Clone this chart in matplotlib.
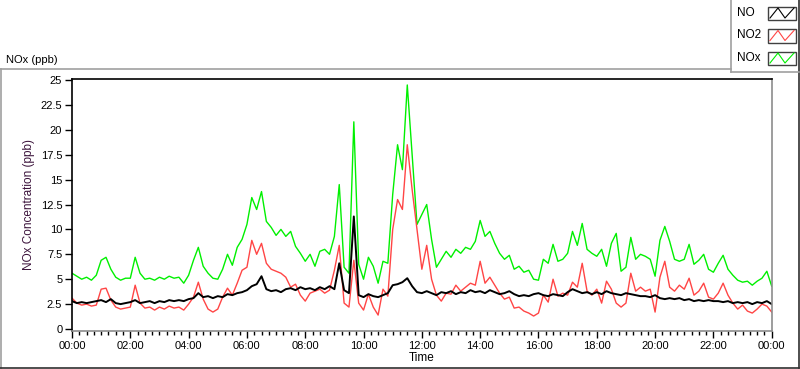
import numpy as np
import matplotlib.pyplot as plt
from matplotlib.lines import Line2D
from matplotlib.patches import Rectangle
from matplotlib.ticker import MultipleLocator, FixedLocator

# 10-minute readings, one row per hour (00:00 ... 23:50) plus the closing 24:00 value
no_ppb = [
    2.8, 2.6, 2.7, 2.6, 2.7, 2.8,
    2.9, 2.7, 3.0, 2.6, 2.5, 2.6,
    2.7, 2.9, 2.6, 2.7, 2.8, 2.6,
    2.8, 2.7, 2.9, 2.8, 2.9, 2.8,
    3.0, 3.1, 3.6, 3.2, 3.3, 3.1,
    3.3, 3.2, 3.5, 3.4, 3.6, 3.7,
    3.9, 4.3, 4.5, 5.3, 4.0, 3.8,
    3.9, 3.7, 4.0, 4.1, 3.9, 4.2,
    4.0, 4.1, 3.9, 4.2, 4.0, 4.3,
    4.0, 6.6, 3.9, 3.6, 11.3, 3.4,
    3.2, 3.5, 3.3, 3.2, 3.4, 3.6,
    4.4, 4.5, 4.7, 5.1, 4.3, 3.7,
    3.6, 3.8, 3.6, 3.4, 3.7, 3.6,
    3.8, 3.5, 3.7, 3.6, 3.9, 3.7,
    3.8, 3.6, 3.9, 3.7, 3.5, 3.6,
    3.8, 3.5, 3.3, 3.4, 3.3, 3.5,
    3.6, 3.4, 3.3, 3.5, 3.4, 3.3,
    3.7, 4.0, 3.8, 3.6, 3.7, 3.5,
    3.7, 3.5, 3.8, 3.6, 3.5, 3.4,
    3.6, 3.5, 3.4, 3.3, 3.3, 3.2,
    3.4, 3.1, 3.0, 3.1, 3.0, 3.1,
    2.9, 3.0, 2.8, 2.9, 2.8, 2.9,
    2.8, 2.8, 2.7, 2.8, 2.6, 2.7,
    2.6, 2.7, 2.5, 2.7, 2.6, 2.8,
    2.5,
]

no2_ppb = [
    3.1, 2.6, 2.4, 2.5, 2.3, 2.4,
    4.0, 4.1, 2.9, 2.2, 2.0, 2.1,
    2.2, 4.4, 2.6, 2.1, 2.2, 1.9,
    2.2, 2.0, 2.3, 2.1, 2.2, 1.9,
    2.5, 3.2, 4.7, 3.0, 2.0, 1.7,
    2.0, 3.2, 4.1, 3.4, 4.6, 5.9,
    6.2, 8.9, 7.5, 8.6, 6.6, 6.0,
    5.8, 5.6, 5.2, 4.2, 4.5, 3.4,
    2.8, 3.6, 3.8, 4.0, 3.6, 3.9,
    5.9, 8.4, 2.6, 2.2, 6.9, 2.6,
    1.9, 3.5, 2.2, 1.4, 4.0, 3.3,
    10.0, 13.0, 12.0, 18.5, 14.0, 10.0,
    6.0, 8.4, 5.0, 3.4, 2.8, 3.6,
    3.5, 4.4, 3.8, 4.2, 4.6, 4.4,
    6.8, 4.6, 5.2, 4.4, 3.6, 3.0,
    3.2, 2.1, 2.2, 1.8, 1.6, 1.3,
    1.6, 3.4, 2.7, 5.0, 3.3, 3.6,
    3.4, 4.7, 4.2, 6.6, 3.8, 3.4,
    4.0, 2.6, 4.8, 4.0, 2.6, 2.2,
    2.6, 5.6, 3.8, 4.2, 3.8, 4.0,
    1.7, 5.2, 6.8, 4.2, 3.8, 4.4,
    4.0, 5.1, 3.4, 3.8, 4.6, 3.2,
    3.0, 3.6, 4.6, 3.4, 2.6, 2.0,
    2.4, 1.8, 1.6, 2.0, 2.5, 2.3,
    1.7,
]

nox_ppb = [
    5.6, 5.3, 5.0, 5.2, 4.9, 5.4,
    6.9, 7.2, 6.0, 5.2, 4.9, 5.1,
    5.1, 7.2, 5.6, 5.0, 5.1, 4.9,
    5.2, 5.0, 5.3, 5.1, 5.2, 4.6,
    5.4, 6.9, 8.2, 6.3, 5.6, 5.1,
    5.0, 6.0, 7.5, 6.4, 8.2, 9.0,
    10.5, 13.2, 12.0, 13.8, 10.8, 10.2,
    9.4, 10.0, 9.3, 9.8, 8.3, 7.6,
    6.8, 7.5, 6.3, 7.8, 8.0, 7.5,
    9.3, 14.5, 6.2, 5.6, 20.8, 6.5,
    5.0, 7.2, 6.3, 4.6, 6.8, 6.6,
    13.5, 18.5, 16.0, 24.5, 17.5, 10.5,
    11.5, 12.5, 9.0, 6.2, 7.0, 7.8,
    7.2, 8.0, 7.6, 8.2, 8.0, 8.8,
    10.9, 9.3, 9.8, 8.6, 7.6, 7.0,
    7.4, 6.0, 6.3, 5.7, 5.9, 5.0,
    4.9, 7.0, 6.6, 8.5, 6.8, 7.0,
    7.6, 9.8, 8.4, 10.6, 8.0, 7.6,
    7.3, 8.0, 6.3, 8.6, 9.6, 5.8,
    6.2, 9.2, 7.0, 7.5, 7.3, 7.0,
    5.3, 8.9, 10.3, 8.8, 7.0, 6.8,
    7.0, 8.5, 6.5, 6.9, 7.5, 6.0,
    5.7, 6.6, 7.4, 6.0, 5.4, 4.9,
    4.7, 4.8, 4.4, 4.8, 5.1, 5.8,
    4.3,
]

series_names = ['NO', 'NO2', 'NOx']
series_colors = ['#000000', '#ff4545', '#00f000']
time_labels = ['00:00', '02:00', '04:00', '06:00', '08:00', '10:00', '12:00',
               '14:00', '16:00', '18:00', '20:00', '22:00', '00:00']
y_ticks = [0, 2.5, 5, 7.5, 10, 12.5, 15, 17.5, 20, 22.5, 25]

hours = np.arange(len(nox_ppb)) / 6.0

plt.rcParams['font.family'] = ['Liberation Sans', 'DejaVu Sans']
W, H = 800, 369
fig = plt.figure(figsize=(W / 100, H / 100), dpi=100)


def fx(x):
    return x / W


def fy(y):
    return 1 - y / H


# plot area
ax = fig.add_axes([fx(72), fy(331), fx(700), (331 - 79) / H])
ax.plot(hours, nox_ppb, color=series_colors[2], lw=1.0)
ax.plot(hours, no2_ppb, color=series_colors[1], lw=1.0)
ax.plot(hours, no_ppb, color=series_colors[0], lw=1.4)

ax.set_xlim(0, 24.01)
ax.set_ylim(-0.2, 25.1)
ax.xaxis.set_major_locator(FixedLocator(np.arange(0, 25, 2)))
ax.set_xticklabels(time_labels)
ax.xaxis.set_minor_locator(MultipleLocator(0.25))
ax.set_yticks(y_ticks)
ax.set_yticklabels(['%g' % v for v in y_ticks])
ax.tick_params(axis='both', which='major', labelsize=8, length=5, width=1, pad=2)
ax.tick_params(axis='x', which='minor', length=3, width=1)
for side in ['left', 'top']:
    ax.spines[side].set_color('black')
for side in ['right', 'bottom']:
    ax.spines[side].set_color('#8c8c8c')
for s in ax.spines.values():
    s.set_linewidth(1.2)

ax.set_xlabel('Time', fontsize=8.5, labelpad=1)
ax.set_ylabel('NOx Concentration (ppb)', fontsize=8.5, color='#3c143c', labelpad=4)

fig.text(fx(6), fy(60), 'NOx (ppb)', fontsize=8, va='center', ha='left')

# outer frame
frame = [((0, 69), (731, 69), '#a0a0a0'), ((0.5, 69), (0.5, 368), '#a0a0a0'),
         ((0, 368), (799, 368), '#303030'), ((799, 0), (799, 368), '#303030'),
         ((731, 0), (731, 72), '#a0a0a0'), ((731, 72), (799, 72), '#a0a0a0')]
for (x0, y0), (x1, y1), c in frame:
    fig.add_artist(Line2D([fx(x0), fx(x1)], [fy(y0), fy(y1)], color=c, lw=1.2))

# legend
leg = fig.add_axes([fx(731), fy(72), fx(68), 72 / H])
leg.set_xlim(0, 68)
leg.set_ylim(72, 0)
leg.axis('off')
for i, (name, c) in enumerate(zip(series_names, series_colors)):
    yc = 13 + i * 22.5
    leg.text(6, yc, name, fontsize=8.5, va='center', ha='left')
    leg.add_patch(Rectangle((37, yc - 6.5), 28, 13.5, fill=False, ec='#404040', lw=1))
    leg.plot([39, 47, 54, 63], [yc + 5, yc - 5, yc + 5, yc - 5], color=c, lw=0.8)

fig.savefig('out.png', dpi=100)
